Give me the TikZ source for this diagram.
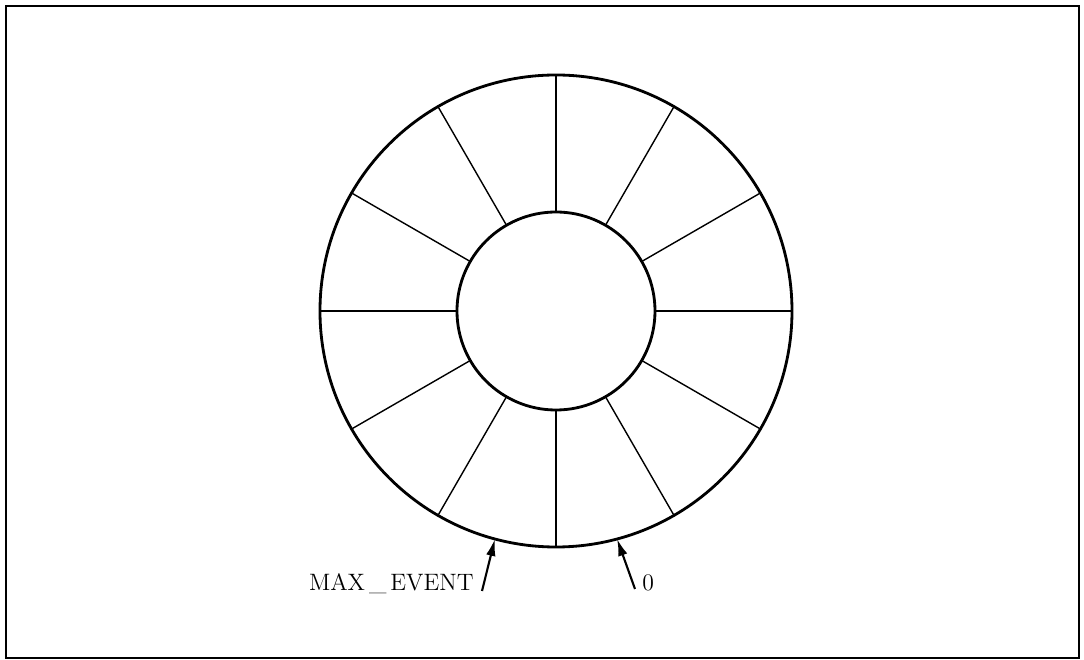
\documentclass[tikz,border=0pt]{standalone}
\usepackage{tikz}
\usetikzlibrary{arrows.meta, positioning, calc}

\begin{document}
\begin{tikzpicture}[
    >=Stealth,
    font=\fontsize{13.5}{16}\selectfont,
    frame/.style={line width=1.1pt},
    rim/.style={line width=1.6pt},
    spoke/.style={line width=0.8pt},
    ptr/.style={line width=1.2pt, -{Latex[length=3.4mm, width=1.9mm]}},
    lbl/.style={inner sep=0pt}
]
\useasboundingbox (-11.12,-6.98) rectangle (10.56,6.22);

% outer box
\draw[frame] (-11.0,-6.94) rectangle (10.46,6.1);

% ring buffer
\coordinate (c) at (0,0);
\draw[rim] (c) circle (4.72);
\draw[rim] (c) circle (1.98);
\foreach \a in {0,30,...,330}
    \draw[spoke] ($(c)+(\a:1.98)$) -- ($(c)+(\a:4.72)$);

% pointers
\coordinate (maxtip) at ($(c)+(-105:4.72)$);
\coordinate (zerotip) at ($(c)+(-75:4.72)$);
\coordinate (maxtail) at (-1.48,-5.6);
\coordinate (zerotail) at (1.58,-5.56);
\node[lbl, anchor=base east] (maxlbl) at (-1.64,-5.6) {MAX\,\_\,EVENT};
\node[lbl, anchor=base west] (zerolbl) at (1.72,-5.6) {0};

\draw[ptr] (maxtail) -- (maxtip);
\draw[ptr] (zerotail) -- (zerotip);

\end{tikzpicture}
\end{document}
